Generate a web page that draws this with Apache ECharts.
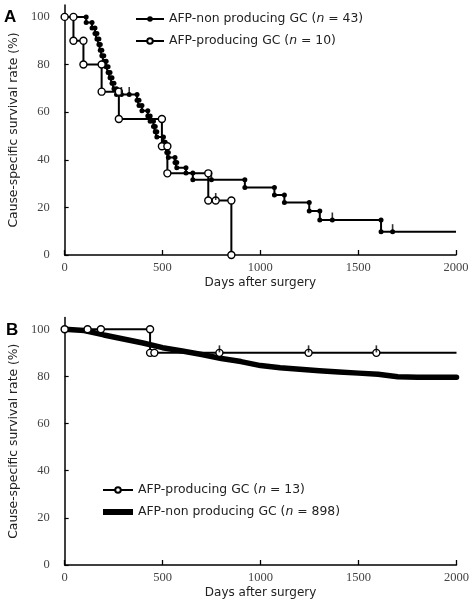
<!DOCTYPE html>
<html>
<head>
<meta charset="utf-8">
<script src="https://cdn.jsdelivr.net/npm/echarts@6/dist/echarts.min.js"></script>
<style>
html,body{margin:0;padding:0;background:#fff;}
#chart{width:472px;height:607px;}
</style>
</head>
<body>
<div id="chart"></div>
<script>
// ---------- DATA ----------
const xTicks = [0, 500, 1000, 1500, 2000];
const yTicks = [0, 20, 40, 60, 80, 100];

const nameANon = 'AFP-non producing GC (n = 43)';
const nameAProd = 'AFP-producing GC (n = 10)';
const nameBProd = 'AFP-producing GC (n = 13)';
const nameBNon = 'AFP-non producing GC (n = 898)';

// Panel A: AFP-non producing GC, event days and survival after each event (%)
const aNonEventDays = [110,140,155,165,175,182,190,200,212,222,232,242,252,265,
  370,380,395,425,437,454,463,471,505,514,522,530,564,573,620,655,
  921,1072,1123,1250,1304,1617];
const aNonEventSurv = [97.7,95.3,93.0,90.7,88.4,86.0,83.7,81.4,79.1,76.7,74.4,72.1,69.8,67.4,
  65.0,62.8,60.6,58.4,56.2,54.0,51.8,49.6,47.4,45.2,43.0,41.0,38.8,36.6,34.4,31.6,
  28.3,25.2,22.1,18.5,14.7,9.8];
const aNonCensorDays = [290, 330, 750, 1368, 1676];

// Panel A: AFP-producing GC
const aProdEventDays = [45, 96, 189, 277, 497, 525, 734, 852];
const aProdEventSurv = [90.0, 80.0, 68.6, 57.1, 45.7, 34.3, 22.9, 0];
const aProdCensorDays = [772];

// Panel B: AFP-producing GC
const bProdEventDays = [436];
const bProdEventSurv = [90.0];
const bProdCensorDays = [117, 185, 458, 790, 1245, 1591];
const bProdTickDays = [790, 1245, 1591];

// Panel B: AFP-non producing GC
const bNonDays = [0,100,200,300,400,500,600,700,800,900,1000,1100,1200,1300,1400,1500,1600,1650,1700,1800,1900,2000];
const bNonSurv = [100,99.5,97.6,95.9,94.2,92.2,90.8,89.3,87.6,86.3,84.6,83.7,83.0,82.4,81.9,81.4,80.9,80.4,79.9,79.7,79.7,79.7];

// ---------- HELPERS ----------
function survAt(evDays, evSurv, t) {
  let s = 100;
  for (let i = 0; i < evDays.length; i++) if (evDays[i] <= t) s = evSurv[i];
  return s;
}
function kmPoints(evDays, evSurv, cDays, endDay, startSymbol) {
  const items = [];
  evDays.forEach((t, i) => items.push({t: t, e: true, s: evSurv[i]}));
  cDays.forEach(t => items.push({t: t, e: false}));
  items.sort((a, b) => a.t - b.t);
  const pts = [{value: [0, 100], symbol: startSymbol}];
  let cur = 100;
  items.forEach(it => {
    if (it.e) {
      pts.push({value: [it.t, cur]});
      pts.push({value: [it.t, it.s]});
      cur = it.s;
    } else {
      pts.push({value: [it.t, cur]});
    }
  });
  if (cur > 0) pts.push({value: [endDay, cur], symbol: 'none'});
  return pts;
}
function ticks(evDays, evSurv, days) {
  return days.map(t => [t, survAt(evDays, evSurv, t)]);
}

const richStyle = {
  t: {fontFamily: 'DejaVu Sans', fontSize: 12.4, color: '#222'},
  i: {fontFamily: 'DejaVu Sans', fontSize: 12.4, color: '#222', fontStyle: 'italic'}
};
function legendFmt(name) {
  const idx = name.indexOf('(n');
  return '{t|' + name.slice(0, idx + 1) + '}{i|n}{t|' + name.slice(idx + 2) + '}';
}
const serif = 'Liberation Serif';

function xAxisDef(gi) {
  return {
    gridIndex: gi, type: 'value', min: 0, max: 2000, interval: 500,
    axisLine: {show: true, lineStyle: {color: '#000', width: 1.5}},
    axisTick: {show: true, inside: true, length: 5, lineStyle: {color: '#000', width: 1.3}},
    splitLine: {show: false},
    axisLabel: {fontFamily: serif, fontSize: 12.5, color: '#444', margin: 6,
      customValues: xTicks, formatter: v => String(v)},
    name: 'Days after surgery', nameLocation: 'middle', nameGap: 22,
    nameTextStyle: {fontFamily: 'DejaVu Sans', fontSize: 12, color: '#222'}
  };
}
function yAxisDef(gi) {
  return {
    gridIndex: gi, type: 'value', min: 0, max: 105, interval: 20,
    axisLine: {show: true, lineStyle: {color: '#000', width: 1.5}},
    axisTick: {show: true, inside: true, length: 4, lineStyle: {color: '#000', width: 1.2},
      customValues: yTicks},
    splitLine: {show: false},
    axisLabel: {fontFamily: serif, fontSize: 12.5, color: '#444', margin: 15,
      customValues: yTicks, formatter: v => String(v)},
    name: 'Cause-specific survival rate (%)', nameLocation: 'middle', nameGap: 42,
    nameRotate: 90,
    nameTextStyle: {fontFamily: 'DejaVu Sans', fontSize: 12.3, color: '#222'}
  };
}

const filledDot = {symbol: 'circle', symbolSize: 5, itemStyle: {color: '#000', borderColor: '#000', borderWidth: 0}};
const openDot = {symbol: 'circle', symbolSize: 7, itemStyle: {color: '#fff', borderColor: '#000', borderWidth: 1.4}};
const tickStyle = {type: 'scatter', symbol: 'rect', symbolSize: [1.6, 7], symbolOffset: [0, -4],
  itemStyle: {color: '#000'}, silent: true, z: 5};

const chart = echarts.init(document.getElementById('chart'), null, {renderer: 'canvas'});
chart.setOption({
  animation: false,
  backgroundColor: '#fff',
  graphic: [
    {type: 'text', left: 4, top: 9, style: {text: 'A', fontFamily: 'Liberation Sans', fontWeight: 'bold', fontSize: 17, fill: '#000'}},
    {type: 'text', left: 6, top: 322, style: {text: 'B', fontFamily: 'Liberation Sans', fontWeight: 'bold', fontSize: 17, fill: '#000'}}
  ],
  grid: [
    {left: 60.5, top: 5, width: 395.5, height: 250},
    {left: 62, top: 317.5, width: 395.7, height: 247.5}
  ],
  xAxis: [xAxisDef(0), xAxisDef(1)],
  yAxis: [yAxisDef(0), yAxisDef(1)],
  legend: [
    {data: [nameANon, nameAProd], orient: 'vertical', left: 130, top: 8, itemWidth: 28, itemHeight: 7,
      itemGap: 10, formatter: legendFmt, textStyle: {rich: richStyle}, selectedMode: false},
    {data: [nameBProd, {name: nameBNon, icon: 'path://M0,0 L30,0 L30,6 L0,6 Z'}],
      orient: 'vertical', left: 97, top: 479, itemWidth: 30, itemHeight: 7,
      itemGap: 10, formatter: legendFmt, textStyle: {rich: richStyle}, selectedMode: false}
  ],
  series: [
    Object.assign({
      name: nameANon, type: 'line', xAxisIndex: 0, yAxisIndex: 0,
      data: kmPoints(aNonEventDays, aNonEventSurv, aNonCensorDays, 2000, 'none'),
      showSymbol: true, showAllSymbol: true,
      lineStyle: {color: '#000', width: 2}, z: 3
    }, filledDot),
    Object.assign({}, tickStyle, {xAxisIndex: 0, yAxisIndex: 0,
      data: ticks(aNonEventDays, aNonEventSurv, aNonCensorDays)}),
    Object.assign({
      name: nameAProd, type: 'line', xAxisIndex: 0, yAxisIndex: 0,
      data: kmPoints(aProdEventDays, aProdEventSurv, aProdCensorDays, 2000, 'circle'),
      showSymbol: true, showAllSymbol: true,
      lineStyle: {color: '#000', width: 2}, z: 4
    }, openDot),
    Object.assign({}, tickStyle, {xAxisIndex: 0, yAxisIndex: 0,
      data: ticks(aProdEventDays, aProdEventSurv, aProdCensorDays)}),

    {
      name: nameBNon, type: 'line', xAxisIndex: 1, yAxisIndex: 1,
      data: bNonDays.map((d, i) => [d, bNonSurv[i]]),
      symbol: 'none', showSymbol: false,
      lineStyle: {color: '#000', width: 5.5, cap: 'round', join: 'round'},
      itemStyle: {color: '#000'}, z: 3
    },
    Object.assign({
      name: nameBProd, type: 'line', xAxisIndex: 1, yAxisIndex: 1,
      data: kmPoints(bProdEventDays, bProdEventSurv, bProdCensorDays, 2000, 'circle'),
      showSymbol: true, showAllSymbol: true,
      lineStyle: {color: '#000', width: 2}, z: 4
    }, openDot),
    Object.assign({}, tickStyle, {xAxisIndex: 1, yAxisIndex: 1,
      data: ticks(bProdEventDays, bProdEventSurv, bProdTickDays)})
  ]
});
</script>
</body>
</html>
